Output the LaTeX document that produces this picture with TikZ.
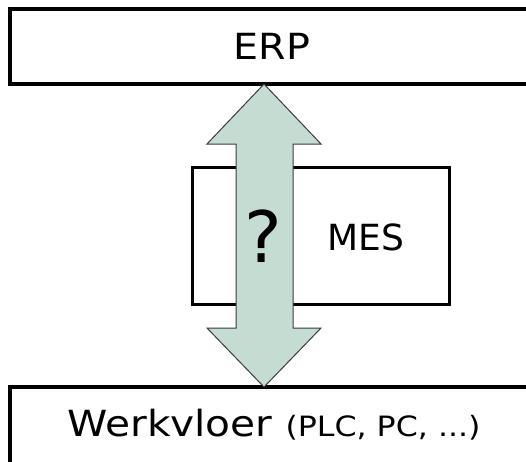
\documentclass[tikz,border=0pt]{standalone}
\usepackage{fontspec}
\setmainfont{DejaVu Sans}
\newfontfamily\widefont[FakeStretch=1.1]{DejaVu Sans}
\newfontfamily\widerfont[FakeStretch=1.13]{DejaVu Sans}
\usetikzlibrary{calc}
\definecolor{arrowfill}{RGB}{197,220,211}
\definecolor{arrowline}{RGB}{60,60,60}
\begin{document}
\begin{tikzpicture}[x=1pt,y=-1pt,
  box/.style={draw=black, fill=white, rectangle, outer sep=0pt, inner sep=0pt},
  lbl/.style={anchor=base, inner sep=0pt, outer sep=0pt, text=black},
  bigarrow/.style={draw=arrowline, fill=arrowfill, line width=1pt, line join=miter}]
\useasboundingbox (0,0) rectangle (526,461);
\clip (0,0) rectangle (526,461);
\fill[white] (0,0) rectangle (526,461);
% boxes
\node[box, line width=4pt, minimum width=540pt, minimum height=75pt, anchor=north west] (erp) at (10,9) {};
\node[box, line width=4pt, minimum width=540pt, minimum height=100pt, anchor=north west] (floor) at (10,387) {};
\node[box, line width=3pt, minimum width=257pt, minimum height=137pt, anchor=north west] (mes) at (192,167) {};
% labels
\node[lbl, font=\widefont\fontsize{36}{36}\selectfont] (erptext) at (272,59) {ERP};
\node[lbl, font=\fontsize{36}{36}\selectfont] (mestext) at (366,250) {MES};
\node[lbl, font=\widerfont\fontsize{36}{36}\selectfont] (floortext) at (274,436) {Werkvloer {\fontsize{28}{28}\selectfont(PLC, PC, ...)}};
% double arrow between ERP and Werkvloer
\coordinate (ta) at ($(erp.south west)+(254,0)$);
\coordinate (tb) at ($(floor.north west)+(254,0)$);
\draw[bigarrow] (ta) -- ($(ta)+(57,60)$) -- ($(ta)+(29,60)$) -- ($(tb)+(29,-59)$) -- ($(tb)+(57,-59)$)
  -- (tb) -- ($(tb)+(-57,-59)$) -- ($(tb)+(-28,-59)$) -- ($(ta)+(-28,60)$) -- ($(ta)+(-57,60)$) -- cycle;
\node[lbl, font=\fontsize{71}{71}\selectfont] (q) at (263,262) {?};
\end{tikzpicture}
\end{document}
